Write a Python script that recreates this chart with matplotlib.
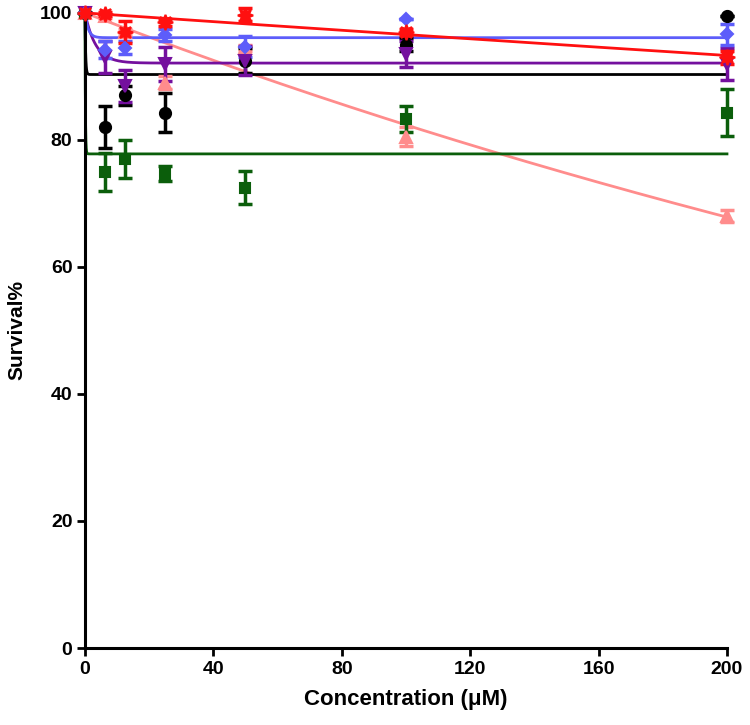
import numpy as np
import matplotlib
matplotlib.use("Agg")
import matplotlib.pyplot as plt

plt.rcParams["font.family"] = ["Liberation Sans", "DejaVu Sans"]

conc = [0, 6.25, 12.5, 25, 50, 100, 200]

# mean survival % and SEM for each treatment
pink_y = [100, 99.5, 97.0, 89.0, 94.5, 80.5, 68.0]
pink_e = [0, 0.3, 0.5, 1.0, 0.5, 1.5, 1.0]
black_y = [100, 82.0, 87.0, 84.3, 92.5, 95.0, 99.5]
black_e = [0, 3.3, 1.5, 3.1, 2.0, 1.0, 0]
green_y = [100, 75.0, 77.0, 74.7, 72.5, 83.3, 84.3]
green_e = [0, 3.0, 3.0, 1.2, 2.6, 2.0, 3.7]
purple_y = [100, 93.0, 88.5, 92.0, 92.5, 93.5, 92.0]
purple_e = [0, 2.5, 2.5, 2.7, 2.3, 2.0, 2.5]
blue_y = [100, 94.2, 94.5, 96.5, 94.7, 99.1, 96.6]
blue_e = [0, 1.3, 1.0, 1.0, 1.6, 0, 1.7]
red_y = [100, 99.8, 97.0, 98.5, 99.7, 97.0, 93.0]
red_e = [0, 0.3, 1.8, 0.5, 1.0, 0.5, 1.0]

# one-phase decay fit parameters: (plateau, rate k)
pink_fit = (0.0, 0.00194)
black_fit = (90.3, 5.0)
green_fit = (77.8, 8.0)
purple_fit = (92.1, 0.3)
blue_fit = (96.1, 1.0)
red_fit = (0.0, 0.000347)

series = [
    (pink_y, pink_e, pink_fit, "#ff8c8c", "^", 8),
    (black_y, black_e, black_fit, "black", "o", 8),
    (green_y, green_e, green_fit, "#0b5e0b", "s", 7.5),
    (purple_y, purple_e, purple_fit, "#74109e", "v", 8),
    (blue_y, blue_e, blue_fit, "#5d5dfa", "D", 6.5),
    (red_y, red_e, red_fit, "#ff1010", (8, 1, 0), 11),
]

fig = plt.figure(figsize=(7.5, 7.25), dpi=100)
ax = fig.add_axes([0.1133, 0.1062, 0.856, 0.876])

xs = np.linspace(0, 200, 2001)
for y, e, (plat, k), color, mk, ms in series:
    curve = plat + (100 - plat) * np.exp(-k * xs)
    ax.plot(xs, curve, color=color, lw=2, zorder=2, clip_on=False)
    ax.errorbar(conc, y, yerr=e, fmt="none", ecolor=color,
                elinewidth=2.5, capsize=5, capthick=2.5, zorder=3, clip_on=False)
    ax.plot(conc, y, linestyle="none", marker=mk, color=color, ms=ms,
            mec=color, mew=1.5, zorder=4, clip_on=False)

ax.set_xlim(0, 200)
ax.set_ylim(0, 100)
ax.set_xticks([0, 40, 80, 120, 160, 200])
ax.set_yticks([0, 20, 40, 60, 80, 100])
for side in ("top", "right"):
    ax.spines[side].set_visible(False)
for side in ("left", "bottom"):
    ax.spines[side].set_linewidth(2.2)
ax.tick_params(width=2, length=6, labelsize=14, pad=3)
for lab in ax.get_xticklabels() + ax.get_yticklabels():
    lab.set_fontweight("bold")
ax.set_xlabel("Concentration (\u03bcM)", fontsize=16, fontweight="bold", labelpad=8)
ax.set_ylabel("Survival%", fontsize=15, fontweight="bold", labelpad=10)

fig.savefig("out.png", dpi=100)
